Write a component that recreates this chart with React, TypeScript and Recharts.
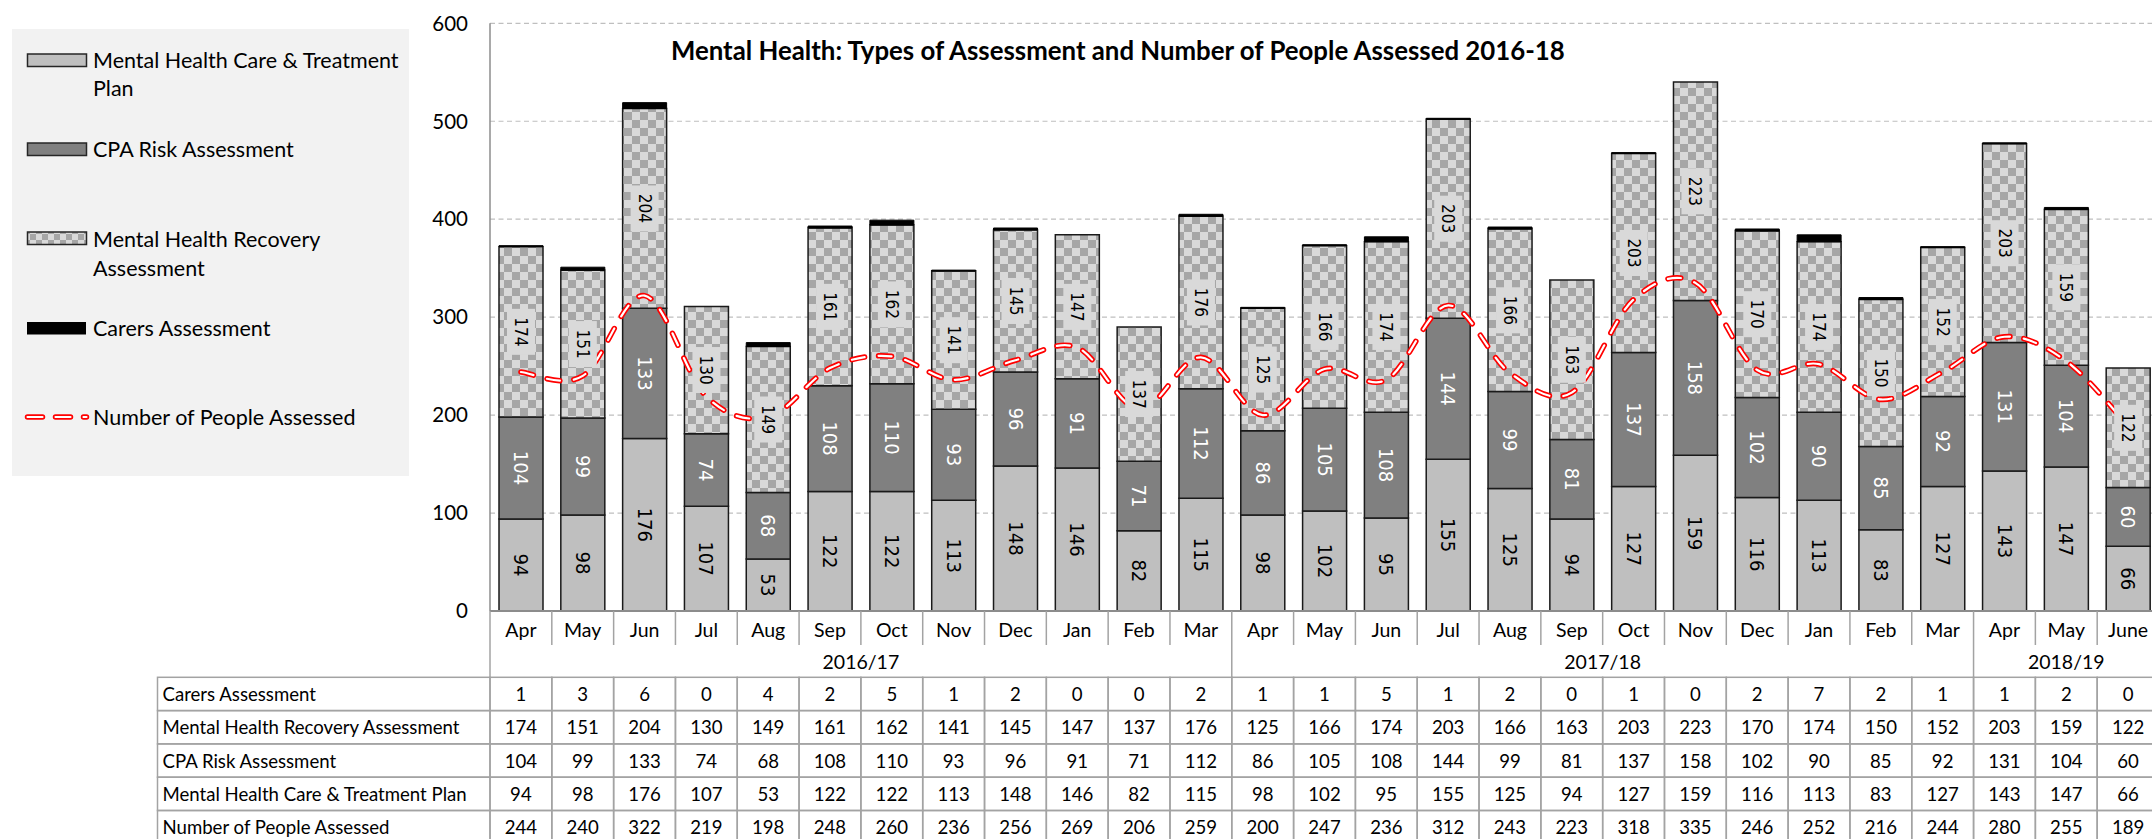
import React from "react";
import { Bar, CartesianGrid, ComposedChart, LabelList, Line, XAxis, YAxis } from "recharts";

const months = ["Apr", "May", "Jun", "Jul", "Aug", "Sep", "Oct", "Nov", "Dec", "Jan", "Feb", "Mar", "Apr", "May", "Jun", "Jul", "Aug", "Sep", "Oct", "Nov", "Dec", "Jan", "Feb", "Mar", "Apr", "May", "June"];
const yearLabels = ["2016/17", "2017/18", "2018/19"];
const yearSpans = [12, 12, 3];

const carers = [1, 3, 6, 0, 4, 2, 5, 1, 2, 0, 0, 2, 1, 1, 5, 1, 2, 0, 1, 0, 2, 7, 2, 1, 1, 2, 0];
const recovery = [174, 151, 204, 130, 149, 161, 162, 141, 145, 147, 137, 176, 125, 166, 174, 203, 166, 163, 203, 223, 170, 174, 150, 152, 203, 159, 122];
const cpa = [104, 99, 133, 74, 68, 108, 110, 93, 96, 91, 71, 112, 86, 105, 108, 144, 99, 81, 137, 158, 102, 90, 85, 92, 131, 104, 60];
const carePlan = [94, 98, 176, 107, 53, 122, 122, 113, 148, 146, 82, 115, 98, 102, 95, 155, 125, 94, 127, 159, 116, 113, 83, 127, 143, 147, 66];
const people = [244, 240, 322, 219, 198, 248, 260, 236, 256, 269, 206, 259, 200, 247, 236, 312, 243, 223, 318, 335, 246, 252, 216, 244, 280, 255, 189];

const yTicks = [0, 100, 200, 300, 400, 500, 600];

const data = months.map((m, i) => ({
  key: `c${i}`,
  month: m,
  carePlan: carePlan[i],
  cpa: cpa[i],
  recovery: recovery[i],
  carers: carers[i],
  people: people[i],
}));

// axis ids sort in the same order they are declared, so they stack top to bottom
const tableRows = [
  { id: "ax2", label: "Carers Assessment", values: carers },
  { id: "ax3", label: "Mental Health Recovery Assessment", values: recovery },
  { id: "ax4", label: "CPA Risk Assessment", values: cpa },
  { id: "ax5", label: "Mental Health Care & Treatment Plan", values: carePlan },
  { id: "ax6", label: "Number of People Assessed", values: people },
];

// layout
const CHART_W = 2159;
const CHART_H = 845;
const PLOT_LEFT = 490;
const PLOT_TOP = 23.3;
const PLOT_BOTTOM = 611;
const Y_AXIS_W = 80;
const CAT_W = (CHART_W - PLOT_LEFT) / months.length;
const MONTH_H = 34;
const YEAR_H = 32.3;
const ROW_H = 33.3;
const TABLE_LEFT = 157.5;
const BOTTOM_MARGIN = CHART_H - PLOT_BOTTOM - MONTH_H - YEAR_H - ROW_H * tableRows.length;

const FONT = "Lato, 'Noto Sans', sans-serif";
const LABEL_FONT = "'DejaVu Sans Condensed', 'DejaVu Sans', sans-serif";
const AXIS_LINE = "#8c8c8c";
const TABLE_LINE = "#a3a3a3";

const yearStarts = yearSpans.map((_, g) => yearSpans.slice(0, g).reduce((a, b) => a + b, 0));

// Excel-like smoothed line (Catmull-Rom through the points)
function excelSmooth(context: any) {
  let pts: number[][] = [];
  return {
    areaStart() {},
    areaEnd() {},
    lineStart() {
      pts = [];
    },
    point(x: number, y: number) {
      pts.push([+x, +y]);
    },
    lineEnd() {
      const n = pts.length;
      if (!n) return;
      context.moveTo(pts[0][0], pts[0][1]);
      for (let i = 0; i < n - 1; i++) {
        const p0 = pts[Math.max(i - 1, 0)];
        const p1 = pts[i];
        const p2 = pts[i + 1];
        const p3 = pts[Math.min(i + 2, n - 1)];
        context.bezierCurveTo(
          p1[0] + (p2[0] - p0[0]) / 6,
          p1[1] + (p2[1] - p0[1]) / 6,
          p2[0] - (p3[0] - p1[0]) / 6,
          p2[1] - (p3[1] - p1[1]) / 6,
          p2[0],
          p2[1]
        );
      }
    },
  };
}

function MonthTick(props: any) {
  const { x, y, index } = props;
  const left = x - CAT_W / 2;
  return (
    <g>
      <line x1={left} x2={left} y1={y} y2={y + MONTH_H} stroke={TABLE_LINE} strokeWidth={1.5} />
      <text x={x} y={y + 18.5} textAnchor="middle" dominantBaseline="central" fontFamily={FONT} fontSize={19.5} fill="#000">
        {months[index]}
      </text>
    </g>
  );
}

function YearTick(props: any) {
  const { x, y, index } = props;
  const g = yearStarts.indexOf(index);
  if (g < 0) return <g />;
  const left = x - CAT_W / 2;
  const cx = left + (yearSpans[g] * CAT_W) / 2;
  return (
    <g>
      <line x1={left} x2={left} y1={y} y2={y + YEAR_H} stroke={TABLE_LINE} strokeWidth={1.5} />
      <text x={cx} y={y + 16.5} textAnchor="middle" dominantBaseline="central" fontFamily={FONT} fontSize={19.5} fill="#000">
        {yearLabels[g]}
      </text>
    </g>
  );
}

function makeTableTick(label: string, values: number[]) {
  return (props: any) => {
    const { x, y, index } = props;
    const left = x - CAT_W / 2;
    return (
      <g>
        {index === 0 && (
          <g>
            <rect x={TABLE_LEFT} y={y} width={PLOT_LEFT - TABLE_LEFT} height={ROW_H} fill="none" stroke={TABLE_LINE} strokeWidth={1.5} />
            <text x={TABLE_LEFT + 5} y={y + ROW_H / 2} dominantBaseline="central" fontFamily={FONT} fontSize={18.6} fill="#000">
              {label}
            </text>
          </g>
        )}
        <rect x={left} y={y} width={CAT_W} height={ROW_H} fill="none" stroke={TABLE_LINE} strokeWidth={1.5} />
        <text x={x} y={y + ROW_H / 2} textAnchor="middle" dominantBaseline="central" fontFamily={FONT} fontSize={18.6} fill="#000">
          {values[index]}
        </text>
      </g>
    );
  };
}

function makeBarLabel(color: string, size: number, boxed: boolean) {
  return (props: any) => {
    const vb = props.viewBox && props.viewBox.width != null ? props.viewBox : props;
    const x = Number(vb.x);
    const width = Number(vb.width);
    const h = Number(vb.height);
    const y = h < 0 ? Number(vb.y) + h : Number(vb.y);
    const height = Math.abs(h);
    const value = props.value;
    if (!value || height < 18) return null;
    const cx = x + width / 2;
    const cy = y + height / 2;
    return (
      <g>
        {boxed && <rect x={cx - 14} y={cy - 23} width={28} height={46} fill="#d9d9d9" />}
        <text
          x={cx}
          y={cy}
          transform={`rotate(90 ${cx} ${cy})`}
          textAnchor="middle"
          dominantBaseline="central"
          fontFamily={LABEL_FONT}
          fontSize={size}
          fill={color}
        >
          {value}
        </text>
      </g>
    );
  };
}

function LegendOverlay() {
  const textProps = { fontFamily: FONT, fontSize: 21.5, fill: "#000", dominantBaseline: "central" as const };
  return (
    <svg width={2152} height={839} style={{ position: "absolute", left: 0, top: 0, pointerEvents: "none" }}>
      <defs>
        <pattern id="checker" width={16} height={16} patternUnits="userSpaceOnUse">
          <rect width={16} height={16} fill="#d9d9d9" />
          <rect width={8} height={8} fill="#a6a6a6" />
          <rect x={8} y={8} width={8} height={8} fill="#a6a6a6" />
        </pattern>
        <pattern id="checkerSmall" width={12} height={12} patternUnits="userSpaceOnUse">
          <rect width={12} height={12} fill="#d9d9d9" />
          <rect width={6} height={6} fill="#a6a6a6" />
          <rect x={6} y={6} width={6} height={6} fill="#a6a6a6" />
        </pattern>
      </defs>
      <text x={671} y={50} fontFamily={FONT} fontWeight={700} fontSize={25.8} fill="#000" dominantBaseline="central">
        Mental Health: Types of Assessment and Number of People Assessed 2016-18
      </text>

      <rect x={12} y={29} width={397} height={447} fill="#f2f2f2" />
      <rect x={27.5} y={54} width={59} height={12.5} fill="#bfbfbf" stroke="#262626" strokeWidth={1.5} />
      <text x={93} y={60} {...textProps}>Mental Health Care &amp; Treatment</text>
      <text x={93} y={88} {...textProps}>Plan</text>

      <rect x={27.5} y={143} width={59} height={12.5} fill="#808080" stroke="#262626" strokeWidth={1.5} />
      <text x={93} y={149} {...textProps}>CPA Risk Assessment</text>

      <rect x={27.5} y={232} width={59} height={12.5} fill="url(#checkerSmall)" stroke="#262626" strokeWidth={1.5} />
      <text x={93} y={239} {...textProps}>Mental Health Recovery</text>
      <text x={93} y={268} {...textProps}>Assessment</text>

      <rect x={27} y={322} width={59} height={12.5} fill="#000" />
      <text x={93} y={328} {...textProps}>Carers Assessment</text>

      <path d="M27.5 417 H86.5" stroke="#ff0000" strokeWidth={5.5} strokeLinecap="round" strokeDasharray="15 13 15 13 3 100" fill="none" />
      <path d="M27.5 417 H86.5" stroke="#ffffff" strokeWidth={2.2} strokeLinecap="round" strokeDasharray="15 13 15 13 3 100" fill="none" />
      <text x={93} y={417} {...textProps}>Number of People Assessed</text>
    </svg>
  );
}

export default function App() {
  return (
    <div style={{ position: "absolute", left: 0, top: 0, width: 2152, height: 839, overflow: "hidden", background: "#fff" }}>
      <ComposedChart
        width={CHART_W}
        height={CHART_H}
        data={data}
        margin={{ top: PLOT_TOP, right: 0, bottom: BOTTOM_MARGIN, left: PLOT_LEFT - Y_AXIS_W }}
      >
        <CartesianGrid xAxisId="ax0" vertical={false} stroke="#bfbfbf" strokeDasharray="5 3.5" strokeWidth={1.2} />
        <YAxis
          width={Y_AXIS_W}
          domain={[0, 600]}
          ticks={yTicks}
          interval={0}
          axisLine={{ stroke: AXIS_LINE, strokeWidth: 1.5 }}
          tickLine={false}
          tickSize={0}
          tickMargin={22}
          tick={{ fill: "#000", fontSize: 20.5, fontFamily: FONT }}
        />
        <XAxis
          xAxisId="ax0"
          dataKey="key"
          height={MONTH_H}
          interval={0}
          tickSize={0}
          tickMargin={0}
          tickLine={false}
          axisLine={{ stroke: AXIS_LINE, strokeWidth: 2 }}
          tick={(p: any) => <MonthTick {...p} />}
        />
        <XAxis
          xAxisId="ax1"
          dataKey="key"
          height={YEAR_H}
          interval={0}
          tickSize={0}
          tickMargin={0}
          tickLine={false}
          axisLine={false}
          tick={(p: any) => <YearTick {...p} />}
        />
        {tableRows.map((row) => {
          const Tick = makeTableTick(row.label, row.values);
          return (
            <XAxis
              key={row.id}
              xAxisId={row.id}
              dataKey="key"
              height={ROW_H}
              interval={0}
              tickSize={0}
              tickMargin={0}
              tickLine={false}
              axisLine={false}
              tick={(p: any) => <Tick {...p} />}
            />
          );
        })}
        <Bar xAxisId="ax0" dataKey="carePlan" stackId="a" barSize={44} fill="#bfbfbf" stroke="#1a1a1a" strokeWidth={1.5} isAnimationActive={false}>
          <LabelList dataKey="carePlan" content={makeBarLabel("#000", 20, false)} />
        </Bar>
        <Bar xAxisId="ax0" dataKey="cpa" stackId="a" barSize={44} fill="#808080" stroke="#1a1a1a" strokeWidth={1.5} isAnimationActive={false}>
          <LabelList dataKey="cpa" content={makeBarLabel("#fff", 20, false)} />
        </Bar>
        <Bar xAxisId="ax0" dataKey="recovery" stackId="a" barSize={44} fill="url(#checker)" stroke="#1a1a1a" strokeWidth={1.5} isAnimationActive={false}>
          <LabelList dataKey="recovery" content={makeBarLabel("#000", 17, true)} />
        </Bar>
        <Bar xAxisId="ax0" dataKey="carers" stackId="a" barSize={44} fill="#000" stroke="#000" strokeWidth={1} isAnimationActive={false} />
        <Line
          xAxisId="ax0"
          dataKey="people"
          type={excelSmooth as any}
          stroke="#ff0000"
          strokeWidth={5.5}
          strokeLinecap="round"
          strokeDasharray="13 14"
          dot={false}
          activeDot={false}
          isAnimationActive={false}
        />
        <Line
          xAxisId="ax0"
          dataKey="people"
          type={excelSmooth as any}
          stroke="#ffffff"
          strokeWidth={2.2}
          strokeLinecap="round"
          strokeDasharray="13 14"
          dot={false}
          activeDot={false}
          isAnimationActive={false}
        />
      </ComposedChart>
      <LegendOverlay />
    </div>
  );
}
